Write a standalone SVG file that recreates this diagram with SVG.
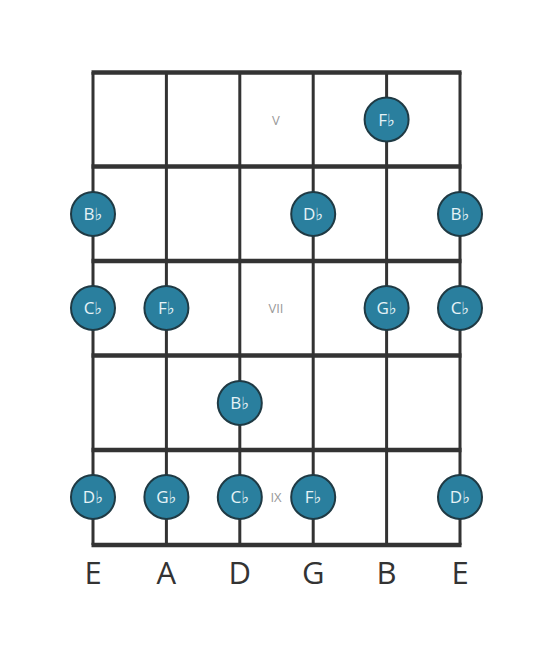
<svg xmlns="http://www.w3.org/2000/svg" width="553" height="656" viewBox="0 0 553 656">
<style>
.str{stroke:#333;stroke-width:3}
.fret{stroke:#333;stroke-width:4.5}
.note circle{fill:#2a7f9e;stroke:#1f3a44;stroke-width:2}
.note text{fill:#e6f3f7;font-family:"Open Sans","DejaVu Sans",sans-serif;font-size:17px;text-anchor:middle}
.pos{fill:#999;font-family:"Open Sans","DejaVu Sans",sans-serif;font-size:13px;text-anchor:middle}
.lbl{fill:#333;font-family:"Open Sans","DejaVu Sans",sans-serif;font-size:31px;text-anchor:middle}
</style>
<rect width="553" height="656" fill="#fff"/>
<g id="connectors">
<line class="str" x1="93" y1="72" x2="93" y2="545"/>
<line class="str" x1="166.4" y1="72" x2="166.4" y2="545"/>
<line class="str" x1="239.8" y1="72" x2="239.8" y2="545"/>
<line class="str" x1="313.2" y1="72" x2="313.2" y2="545"/>
<line class="str" x1="386.6" y1="72" x2="386.6" y2="545"/>
<line class="str" x1="460" y1="72" x2="460" y2="545"/>
<line class="fret" x1="91.5" y1="72.5" x2="461.5" y2="72.5"/>
<line class="fret" x1="91.5" y1="166.5" x2="461.5" y2="166.5"/>
<line class="fret" x1="91.5" y1="261" x2="461.5" y2="261"/>
<line class="fret" x1="91.5" y1="355.5" x2="461.5" y2="355.5"/>
<line class="fret" x1="91.5" y1="450" x2="461.5" y2="450"/>
<line class="fret" x1="91.5" y1="545" x2="461.5" y2="545"/>
</g>
<g id="positions">
<text class="pos" x="276" y="125">V</text>
<text class="pos" x="276" y="313">VII</text>
<text class="pos" x="276" y="502">IX</text>
</g>
<g id="n1" class="note"><circle cx="386.6" cy="119.5" r="22"/><text x="386.6" y="125.5">F♭</text></g>
<g id="n2" class="note"><circle cx="93" cy="214" r="22"/><text x="93" y="220">B♭</text></g>
<g id="n3" class="note"><circle cx="313.2" cy="214" r="22"/><text x="313.2" y="220">D♭</text></g>
<g id="n4" class="note"><circle cx="460" cy="214" r="22"/><text x="460" y="220">B♭</text></g>
<g id="n5" class="note"><circle cx="93" cy="308" r="22"/><text x="93" y="314">C♭</text></g>
<g id="n6" class="note"><circle cx="166.4" cy="308" r="22"/><text x="166.4" y="314">F♭</text></g>
<g id="n7" class="note"><circle cx="386.6" cy="308" r="22"/><text x="386.6" y="314">G♭</text></g>
<g id="n8" class="note"><circle cx="460" cy="308" r="22"/><text x="460" y="314">C♭</text></g>
<g id="n9" class="note"><circle cx="239.8" cy="403" r="22"/><text x="239.8" y="409">B♭</text></g>
<g id="n10" class="note"><circle cx="93" cy="497" r="22"/><text x="93" y="503">D♭</text></g>
<g id="n11" class="note"><circle cx="166.4" cy="497" r="22"/><text x="166.4" y="503">G♭</text></g>
<g id="n12" class="note"><circle cx="239.8" cy="497" r="22"/><text x="239.8" y="503">C♭</text></g>
<g id="n13" class="note"><circle cx="313.2" cy="497" r="22"/><text x="313.2" y="503">F♭</text></g>
<g id="n14" class="note"><circle cx="460" cy="497" r="22"/><text x="460" y="503">D♭</text></g>
<g id="labels">
<text class="lbl" x="93" y="584">E</text>
<text class="lbl" x="166.4" y="584">A</text>
<text class="lbl" x="239.8" y="584">D</text>
<text class="lbl" x="313.2" y="584">G</text>
<text class="lbl" x="386.6" y="584">B</text>
<text class="lbl" x="460" y="584">E</text>
</g>
</svg>
